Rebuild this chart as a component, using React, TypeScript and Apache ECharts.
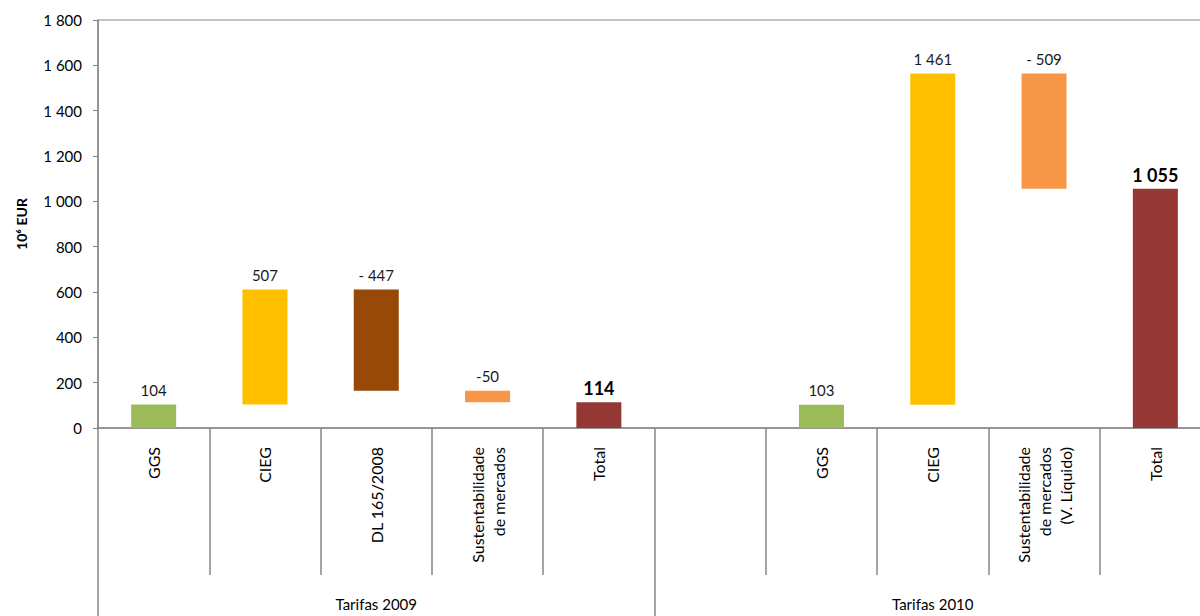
import React, { useEffect, useRef } from "react";
import * as echarts from "echarts";

const categories = [
  "GGS",
  "CIEG",
  "DL 165/2008",
  "Sustentabilidade\nde mercados",
  "Total",
  "",
  "GGS",
  "CIEG",
  "Sustentabilidade\nde mercados\n(V. Líquido)",
  "Total",
];
const groups = ["Tarifas 2009", "Tarifas 2010"];
const kinds = ["step", "step", "step", "step", "total", "gap", "step", "step", "step", "total"];
const values: (number | null)[] = [104, 507, -447, -50, 114, null, 103, 1461, -509, 1055];
const valueLabels = ["104", "507", "- 447", "-50", "114", "", "103", "1 461", "- 509", "1 055"];
const yTicks = [0, 200, 400, 600, 800, 1000, 1200, 1400, 1600, 1800];

const palette: Record<string, string> = {
  GGS: "#9BBB59",
  CIEG: "#FFC000",
  "DL 165/2008": "#984807",
  Sust: "#F79646",
  Total: "#953735",
};

const FONT = "Lato, 'Open Sans', sans-serif";
const AXIS = "#868686";

function colorFor(cat: string): string {
  if (cat.startsWith("Sustentabilidade")) return palette.Sust;
  return palette[cat] || "#999";
}

export default function App() {
  const ref = useRef<HTMLDivElement>(null);
  useEffect(() => {
    if (!ref.current) return;
    const chart = echarts.init(ref.current, undefined, { renderer: "svg" });

    const baseData: any[] = [];
    const barData: any[] = [];
    let running = 0;
    values.forEach((v, i) => {
      if (kinds[i] === "gap" || v === null) {
        baseData.push("-");
        barData.push("-");
        return;
      }
      const isTotal = kinds[i] === "total";
      let base = 0;
      let h = 0;
      if (isTotal) {
        base = 0;
        h = v;
        running = 0;
      } else {
        const start = running;
        const end = running + v;
        base = Math.min(start, end);
        h = Math.abs(v);
        running = end;
      }
      baseData.push(base);
      barData.push({
        value: h,
        itemStyle: { color: colorFor(categories[i]) },
        label: isTotal
          ? { fontWeight: "bold", fontSize: 18, color: "#000", distance: 5 }
          : undefined,
      });
    });

    chart.setOption({
      animation: false,
      backgroundColor: "#fff",
      grid: {
        left: 98,
        top: 20,
        width: 1113,
        height: 408,
        show: true,
        borderColor: AXIS,
        borderWidth: 1,
        containLabel: false,
        outerBoundsMode: "none",
      },
      xAxis: [
        {
          type: "category",
          data: categories,
          position: "bottom",
          axisLine: { show: true, lineStyle: { color: AXIS, width: 1.5 } },
          axisTick: { show: true, length: 147, lineStyle: { color: AXIS, width: 1.5 } },
          axisLabel: {
            interval: 0,
            rotate: 90,
            margin: 19,
            fontSize: 16,
            lineHeight: 21,
            fontFamily: FONT,
            color: "#000",
          },
          splitLine: { show: false },
        },
        {
          type: "category",
          data: groups,
          position: "bottom",
          offset: 147,
          axisLine: { show: false },
          axisTick: { show: true, length: 41, lineStyle: { color: AXIS, width: 1.5 } },
          axisLabel: {
            interval: 0,
            margin: 21,
            fontSize: 15,
            fontFamily: FONT,
            color: "#000",
          },
          splitLine: { show: false },
        },
      ],
      yAxis: {
        type: "value",
        min: yTicks[0],
        max: yTicks[yTicks.length - 1],
        interval: 200,
        name: "10\u2076 EUR",
        nameLocation: "middle",
        nameRotate: 90,
        nameGap: 70,
        nameTextStyle: { fontFamily: FONT, fontWeight: "bold", fontSize: 14, color: "#000" },
        axisLine: { show: true, lineStyle: { color: AXIS, width: 1.5 } },
        axisTick: { show: true, length: 5, lineStyle: { color: AXIS } },
        axisLabel: {
          margin: 16,
          fontSize: 15,
          fontFamily: FONT,
          color: "#000",
          formatter: (v: number) => {
            const s = String(v);
            return s.length > 3 ? s.slice(0, s.length - 3) + " " + s.slice(-3) : s;
          },
        },
        splitLine: { show: false },
      },
      series: [
        {
          type: "bar",
          stack: "w",
          data: baseData,
          barWidth: 45,
          silent: true,
          itemStyle: { color: "transparent" },
          label: { show: false },
        },
        {
          type: "bar",
          stack: "w",
          data: barData,
          barWidth: 45,
          label: {
            show: true,
            position: "top",
            distance: 7,
            fontSize: 15,
            fontFamily: FONT,
            color: "#1a1a1a",
            formatter: (p: any) => valueLabels[p.dataIndex],
          },
        },
      ],
    });
    return () => chart.dispose();
  }, []);
  return (
    <div
      ref={ref}
      style={{ position: "absolute", left: 0, top: 0, width: 1200, height: 616, overflow: "hidden" }}
    />
  );
}
